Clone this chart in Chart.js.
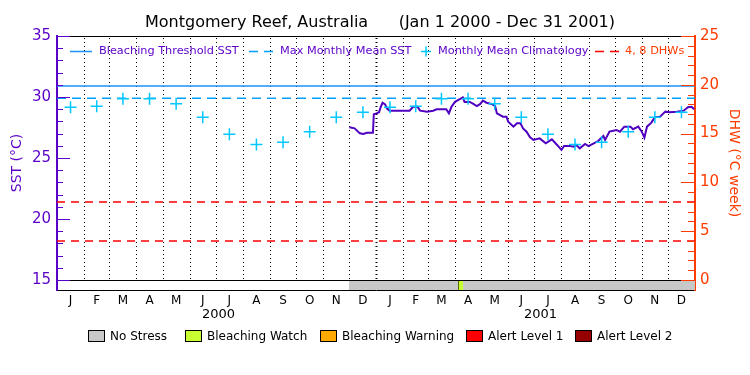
<!DOCTYPE html>
<html>
<head>
<meta charset="utf-8">
<script src="https://cdn.jsdelivr.net/npm/chart.js@4.4.1/dist/chart.umd.min.js"></script>
<style>
  html, body { margin: 0; padding: 0; background: #fff; }
</style>
</head>
<body>
<canvas id="chart" width="750" height="375"></canvas>
<script>
// Days are counted from Jan 1 2000 (day 0) to Dec 31 2001 (day 730).
const monthLetters = ["J", "F", "M", "A", "M", "J", "J", "A", "S", "O", "N", "D"];
const monthStarts = [0, 31, 60, 91, 121, 152, 182, 213, 244, 274, 305, 335,
                     366, 397, 425, 456, 486, 517, 547, 578, 609, 639, 670, 700, 731];
const yearLabels = ["2000", "2001"];
const yearLabelDays = [185, 554];

const climatology = [29.15, 29.25, 29.85, 29.85, 29.45, 28.35, 26.95, 26.1, 26.3, 27.15, 28.35, 28.75];

const sstDays = [335, 341, 347, 351, 355, 362, 363, 366, 369, 371,
                 373, 376, 378, 381, 404, 408, 413, 416, 424, 431,
                 435, 446, 449, 452, 456, 462, 465, 467, 473, 477,
                 481, 485, 488, 492, 498, 502, 504, 511, 515, 517,
                 523, 527, 531, 534, 538, 542, 546, 553, 560, 567,
                 573, 578, 581, 588, 592, 595, 599, 605, 609, 615,
                 620, 626, 628, 633, 641, 645, 650, 657, 660, 666,
                 670, 673, 676, 681, 685, 691, 697, 702, 710, 718,
                 723, 727, 730];
const sstValues = [27.52, 27.43, 27.02, 26.97, 27.07, 27.07, 28.58, 28.66, 28.75, 29.2,
                   29.53, 29.4, 29.07, 28.88, 28.88, 29.2, 29.2, 28.88, 28.8, 28.88,
                   28.99, 28.99, 28.66, 29.2, 29.6, 29.84, 29.97, 29.6, 29.6, 29.43,
                   29.26, 29.43, 29.7, 29.53, 29.43, 29.26, 28.66, 28.39, 28.39, 27.98,
                   27.57, 27.84, 27.84, 27.43, 27.16, 26.7, 26.48, 26.61, 26.2, 26.53,
                   26.07, 25.66, 25.98, 25.98, 25.93, 26.07, 25.79, 26.15, 25.98, 26.2,
                   26.39, 26.8, 26.48, 27.16, 27.3, 27.16, 27.57, 27.57, 27.36, 27.57,
                   27.16, 26.67, 27.57, 27.9, 28.33, 28.39, 28.8, 28.75, 28.8, 28.88,
                   29.16, 29.2, 28.99];

const thresholdSST = 30.9;
const mmmSST = 29.9;
const dhwLevels = [4, 8];

const sstTicks = [15, 20, 25, 30, 35];
const dhwTicks = [0, 5, 10, 15, 20, 25];

// stress bar along the bottom: index into stressNames / stressColors
const stressStart = [335, 460];
const stressEnd = [731, 465];
const stressLevel = [0, 1];
const stressNames = ["No Stress", "Bleaching Watch", "Bleaching Warning", "Alert Level 1", "Alert Level 2"];
const stressColors = ["#c8c8c8", "#c8ff32", "#ffaa00", "#ff0000", "#960000"];

const PURPLE = "#5a00c8";
const ORANGE = "#ff3c00";
const BLUE = "#1e90ff";
const LIGHTBLUE = "#00a0ff";
const CYAN = "#00c8ff";
const RED = "#ff0000";
const FONT = "'DejaVu Sans', sans-serif";

const midMonths = monthStarts.slice(0, -1).map((s, i) => (s + monthStarts[i + 1]) / 2);

function textAt(ctx, str, x, y, size, color, align) {
    ctx.font = size + "px " + FONT;
    ctx.fillStyle = color;
    ctx.textAlign = align || "left";
    ctx.textBaseline = "middle";
    ctx.fillText(str, x, y);
}

function hLine(ctx, x1, x2, y, color, width, dash) {
    ctx.save();
    ctx.strokeStyle = color;
    ctx.lineWidth = width;
    ctx.setLineDash(dash || []);
    ctx.beginPath();
    ctx.moveTo(x1, y);
    ctx.lineTo(x2, y);
    ctx.stroke();
    ctx.restore();
}

const reefPlugin = {
    id: "reef",
    beforeDatasetsDraw(chart) {
        const {ctx, chartArea: a, scales: {x, y}} = chart;
        const bandTop = Math.round(y.getPixelForValue(15)) + 0.5;

        // stress bar
        stressStart.forEach((s, i) => {
            const x1 = Math.round(x.getPixelForValue(s));
            const x2 = Math.round(x.getPixelForValue(stressEnd[i]));
            ctx.fillStyle = stressColors[stressLevel[i]];
            ctx.fillRect(x1, bandTop, x2 - x1, a.bottom - bandTop);
            if (stressLevel[i] > 0) {
                ctx.strokeStyle = "#556b00";
                ctx.lineWidth = 1;
                ctx.beginPath();
                ctx.moveTo(x1 + 0.5, bandTop);
                ctx.lineTo(x1 + 0.5, a.bottom);
                ctx.stroke();
            }
        });

        // dotted month lines
        ctx.save();
        ctx.strokeStyle = "#000";
        ctx.setLineDash([1, 3]);
        monthStarts.slice(1, -1).forEach(d => {
            const px = Math.round(x.getPixelForValue(d)) + 0.5;
            ctx.lineWidth = d === 366 ? 2 : 1;
            ctx.beginPath();
            ctx.moveTo(px, a.top + 2);
            ctx.lineTo(px, bandTop);
            ctx.stroke();
        });
        ctx.restore();

        hLine(ctx, a.left, a.right, bandTop, "#000", 1);
        hLine(ctx, a.left, a.right, Math.round(a.top) + 0.5, "#000", 1);
    },
    afterDraw(chart) {
        const {ctx, chartArea: a, scales: {x, y, y2}} = chart;

        // inward ticks
        ctx.save();
        ctx.lineWidth = 1;
        ctx.strokeStyle = PURPLE;
        for (let v = 15; v <= 35; v++) {
            const py = Math.round(y.getPixelForValue(v)) + 0.5;
            ctx.beginPath();
            ctx.moveTo(a.left, py);
            ctx.lineTo(a.left + (v % 5 === 0 ? 13 : 6), py);
            ctx.stroke();
        }
        ctx.strokeStyle = ORANGE;
        for (let v = 0; v <= 25; v++) {
            const py = Math.round(y2.getPixelForValue(v)) + 0.5;
            ctx.beginPath();
            ctx.moveTo(a.right, py);
            ctx.lineTo(a.right - (v % 5 === 0 ? 14 : 7), py);
            ctx.stroke();
        }
        ctx.restore();

        // title
        textAt(ctx, "Montgomery Reef, Australia      (Jan 1 2000 - Dec 31 2001)", 380, 23, 16, "#000", "center");

        // top legend
        const ly = 51.5;
        hLine(ctx, 70, 92, ly, BLUE, 1.5);
        textAt(ctx, "Bleaching Threshold SST", 99, ly, 11.3, PURPLE);
        hLine(ctx, 249, 273, ly, LIGHTBLUE, 1.5, [9, 6]);
        textAt(ctx, "Max Monthly Mean SST", 280, ly, 11.3, PURPLE);
        hLine(ctx, 421, 431, ly, CYAN, 1.5);
        ctx.save();
        ctx.strokeStyle = CYAN;
        ctx.lineWidth = 1.5;
        ctx.beginPath();
        ctx.moveTo(426, ly - 5);
        ctx.lineTo(426, ly + 5);
        ctx.stroke();
        ctx.restore();
        textAt(ctx, "Monthly Mean Climatology", 438, ly, 11.3, PURPLE);
        hLine(ctx, 595, 619, ly, RED, 1.5, [9, 6]);
        textAt(ctx, "4, 8 DHWs", 625, ly, 11.3, ORANGE);

        // year labels
        yearLabels.forEach((lab, i) => {
            textAt(ctx, lab, x.getPixelForValue(yearLabelDays[i]), 315, 13, "#000", "center");
        });

        // stress legend
        const boxX = [88.5, 185.5, 320.5, 466.5, 575.5];
        stressNames.forEach((name, i) => {
            ctx.fillStyle = stressColors[i];
            ctx.fillRect(boxX[i], 330.5, 16, 11);
            ctx.strokeStyle = "#000";
            ctx.lineWidth = 1;
            ctx.strokeRect(boxX[i], 330.5, 16, 11);
            textAt(ctx, name, boxX[i] + 21.5, 336.5, 12, "#000");
        });
    }
};

new Chart(
    document.getElementById("chart"),
    {
        type: "line",
        data: {
            datasets: [{
                label: "Monthly Mean Climatology",
                data: midMonths.map((d, i) => ({x: d, y: climatology[i % 12]})),
                showLine: false,
                pointStyle: "cross",
                pointRadius: 6,
                pointBorderWidth: 1.5,
                borderColor: CYAN,
                order: 0
            },
            {
                label: "SST",
                data: sstDays.map((d, i) => ({x: d, y: sstValues[i]})),
                borderColor: "#5000c0",
                borderWidth: 2,
                pointRadius: 0,
                order: 1
            },
            {
                label: "Bleaching Threshold SST",
                data: [{x: 0, y: thresholdSST}, {x: 731, y: thresholdSST}],
                borderColor: BLUE,
                borderWidth: 1.5,
                pointRadius: 0,
                order: 2
            },
            {
                label: "Max Monthly Mean SST",
                data: [{x: 0, y: mmmSST}, {x: 731, y: mmmSST}],
                borderColor: LIGHTBLUE,
                borderWidth: 1.5,
                borderDash: [9, 6],
                pointRadius: 0,
                order: 3
            }].concat(dhwLevels.map(v => ({
                label: v + " DHW",
                data: [{x: 0, y: v}, {x: 731, y: v}],
                yAxisID: "y2",
                borderColor: RED,
                borderWidth: 1.5,
                borderDash: [8, 6],
                pointRadius: 0,
                order: 4
            })))
        },
        options: {
            responsive: false,
            animation: false,
            layout: { padding: { top: 36, left: 0, right: 0, bottom: 0 } },
            plugins: {
                legend: { display: false },
                tooltip: { enabled: false },
                title: { display: false }
            },
            scales: {
                x: {
                    type: "linear",
                    min: 0,
                    max: 731,
                    grid: { display: false, drawTicks: false },
                    border: { color: "#000", width: 1 },
                    afterBuildTicks: scale => { scale.ticks = midMonths.map(v => ({value: v})); },
                    afterFit: scale => { scale.height = 85; },
                    ticks: {
                        autoSkip: false,
                        maxRotation: 0,
                        padding: 4,
                        color: "#000",
                        font: { family: FONT, size: 12 },
                        callback: (v, i) => monthLetters[i % 12]
                    }
                },
                y: {
                    position: "left",
                    min: 15 - 10 / 12.2,
                    max: 35,
                    grid: { display: false, drawTicks: false },
                    border: { color: PURPLE, width: 2 },
                    afterBuildTicks: scale => { scale.ticks = sstTicks.map(v => ({value: v})); },
                    afterFit: scale => { scale.width = 57; },
                    ticks: {
                        padding: 6,
                        color: PURPLE,
                        font: { family: FONT, size: 15 }
                    },
                    title: {
                        display: true,
                        text: "SST (°C)",
                        color: PURPLE,
                        font: { family: FONT, size: 14 },
                        padding: { top: 9, bottom: 0 }
                    }
                },
                y2: {
                    position: "right",
                    min: -10 / 9.76,
                    max: 25,
                    grid: { display: false, drawTicks: false },
                    border: { color: ORANGE, width: 2 },
                    afterBuildTicks: scale => { scale.ticks = dhwTicks.map(v => ({value: v})); },
                    afterFit: scale => { scale.width = 55; },
                    ticks: {
                        padding: 5,
                        color: ORANGE,
                        font: { family: FONT, size: 15 }
                    },
                    title: {
                        display: true,
                        text: "DHW (°C week)",
                        color: ORANGE,
                        font: { family: FONT, size: 14 },
                        padding: { top: 8, bottom: 0 }
                    }
                }
            }
        },
        plugins: [reefPlugin]
    }
);
</script>
</body>
</html>
